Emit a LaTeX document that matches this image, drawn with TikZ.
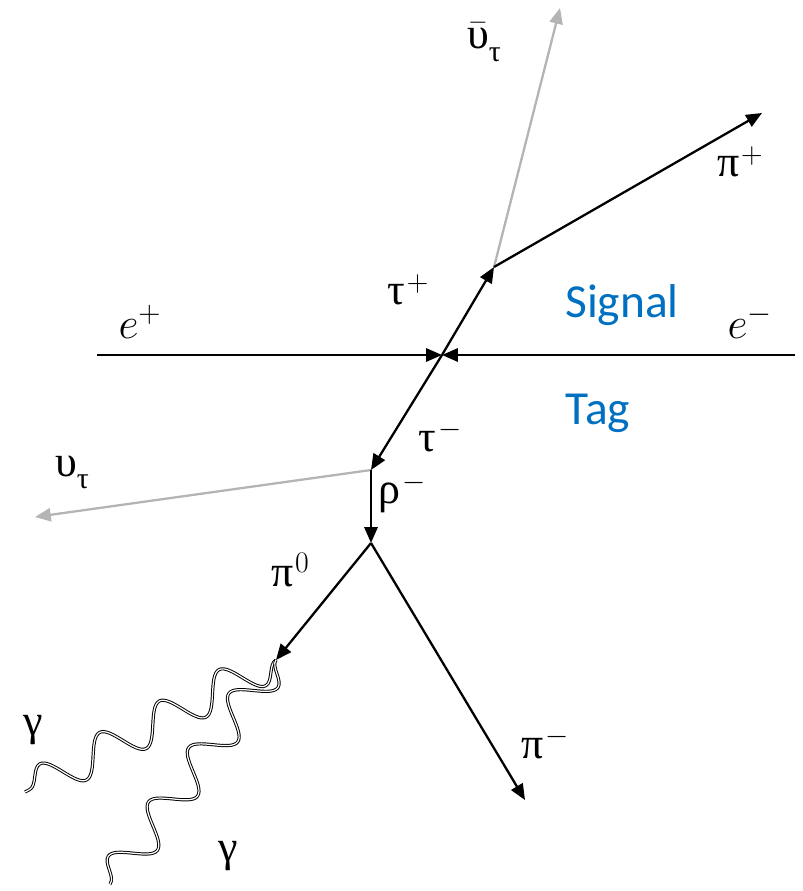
\documentclass[tikz,border=0pt]{standalone}
\usepackage{fix-cm}
\usepackage{fontspec}
\newfontfamily\calib{Carlito}
\newfontfamily\grk{Liberation Serif}
\usetikzlibrary{arrows.meta,decorations.pathmorphing}
\definecolor{sigblue}{HTML}{0070C0}
\definecolor{nugray}{HTML}{B4B4B4}
\newcommand\gsup[1]{\kern0.04em\raisebox{0.3em}{\fontsize{17}{20}\selectfont$#1$}}
\newcommand\gsub[1]{\raisebox{-0.28em}{\fontsize{17}{20}\selectfont\grk #1}}
\tikzset{
  ptrack/.style={line width=1.3pt,-{Triangle[length=9pt,width=7.5pt]}},
  nutrack/.style={line width=1.3pt,draw=nugray,-{Triangle[length=9pt,width=7.5pt,fill=nugray]}},
  photon/.style={decorate,decoration={snake,segment length=1.35cm,amplitude=0.36cm},double=white,double distance=0.7pt,line width=0.55pt},
  lab/.style={inner sep=0pt,font=\grk\fontsize{25}{30}\selectfont},
  blab/.style={inner sep=0pt,text=sigblue,font=\calib\fontsize{27}{32}\selectfont}
}
\begin{document}
\begin{tikzpicture}[x=0.02cm,y=-0.02cm]
\useasboundingbox (0,0) rectangle (802,891);
% vertices
\coordinate (ip) at (442,355);
\coordinate (tp) at (494,267);
\coordinate (tm) at (371,470);
\coordinate (rho) at (371,543);
\coordinate (pz) at (276,660);
% ends
\coordinate (ebl) at (97,355);
\coordinate (ebr) at (795,355);
\coordinate (nubar) at (560,8);
\coordinate (pip) at (762,113);
\coordinate (nu) at (35,517);
\coordinate (pim) at (525,800);
\coordinate (g1) at (25,792);
\coordinate (g2) at (110,884);
% tracks
\draw[ptrack] (ebl) -- (ip);
\draw[ptrack] (ebr) -- (ip);
\draw[nutrack] (tp) -- (nubar);
\draw[ptrack] (ip) -- (tp);
\draw[ptrack] (tp) -- (pip);
\draw[ptrack] (ip) -- (tm);
\draw[nutrack] (tm) -- (nu);
\draw[ptrack] (tm) -- (rho);
\draw[ptrack] (rho) -- (pz);
\draw[ptrack] (rho) -- (pim);
\draw[photon] (pz) -- (g1);
\draw[photon] (pz) -- (g2);
% labels
\node[lab] (lnubar) at (484,42) {$\bar{\mbox{\grk υ}}$\gsub{τ}};
\node[lab] (lpip) at (740,162) {π\gsup{+}};
\node[lab] (ltp) at (408,290) {τ\gsup{+}};
\node[lab,font=\fontsize{25}{30}\selectfont] (lep) at (140,322) {$e^{+}$};
\node[blab] (lsig) at (622,305) {Signal};
\node[lab,font=\fontsize{25}{30}\selectfont] (lem) at (750,322) {$e^{-}$};
\node[blab] (ltag) at (598,413) {Tag};
\node[lab] (ltm) at (440,436) {τ\gsup{-}};
\node[lab] (lnu) at (72,472) {υ\gsub{τ}};
\node[lab] (lrho) at (402,493) {ρ\gsup{-}};
\node[lab] (lpz) at (290,570) {π\gsup{0}};
\node[lab] (lg1) at (33,730) {γ};
\node[lab] (lpim) at (545,743) {π\gsup{-}};
\node[lab] (lg2) at (228,856) {γ};
\end{tikzpicture}
\end{document}
